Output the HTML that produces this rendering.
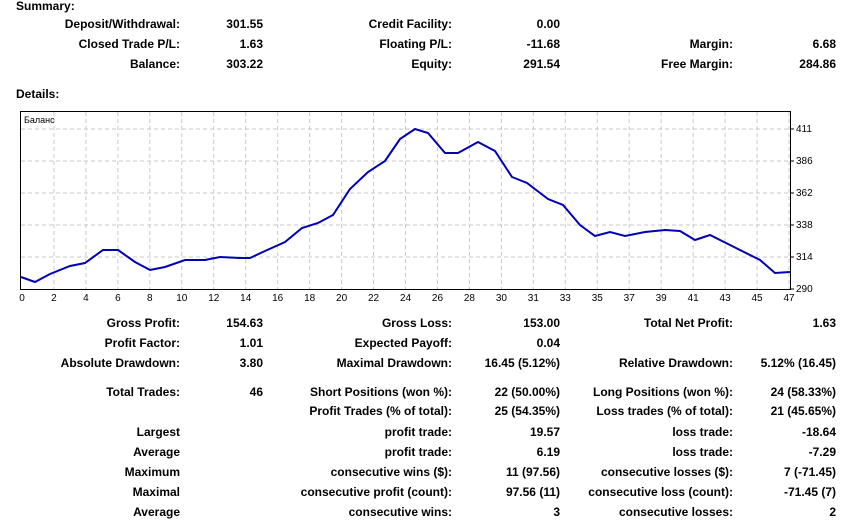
<!DOCTYPE html>
<html><head><meta charset="utf-8"><style>
body{margin:0;width:848px;height:521px;background:#fff;font-family:"Liberation Sans",Tahoma,sans-serif;font-size:12px;font-weight:bold;color:#000;position:relative;overflow:hidden}
.t{position:absolute;white-space:nowrap;line-height:13px}
.r{text-align:right}
svg{font-weight:normal}
</style></head><body>
<div class="t" style="left:16px;top:0px">Summary:</div>
<div class="t" style="left:16px;top:88px">Details:</div>
<div id="c"></div>
<svg style="position:absolute;left:0;top:0" width="848" height="310" font-family="Liberation Sans, sans-serif" font-size="10">
<rect x="20.5" y="111.5" width="770" height="178" fill="#fff" stroke="#000"/>
<g stroke="#c8c8c8" stroke-dasharray="4,3">
<line x1="21" x2="790" y1="129" y2="129"/><line x1="21" x2="790" y1="161" y2="161"/><line x1="21" x2="790" y1="193" y2="193"/><line x1="21" x2="790" y1="225" y2="225"/><line x1="21" x2="790" y1="257" y2="257"/>
</g>
<g id="vg" stroke="#c8c8c8" stroke-dasharray="4,3"></g>
<text x="24" y="123" font-size="9">Баланс</text>
<g font-size="10">
<text x="796" y="132">411</text><text x="796" y="164">386</text><text x="796" y="196">362</text><text x="796" y="228">338</text><text x="796" y="260">314</text><text x="796" y="292">290</text>
</g>
<g stroke="#000"><line x1="790" x2="794" y1="129" y2="129"/><line x1="790" x2="794" y1="161" y2="161"/><line x1="790" x2="794" y1="193" y2="193"/><line x1="790" x2="794" y1="225" y2="225"/><line x1="790" x2="794" y1="257" y2="257"/><line x1="790" x2="794" y1="289" y2="289"/></g>
<g id="xl" font-size="10" text-anchor="middle"></g>
<polyline fill="none" stroke="#0000b4" stroke-width="2" points="21,277 35,282 50,274 70,266 85,263 103,250 118,250 135,262 150,270 165,267 185,260 205,260 220,257 240,258 250,258 265,251 285,242 302,228 318,223 333,215 350,189 368,172 385,161 400,139 415,129 428,133 445,153 458,153 478,142 495,151 512,177 527,183 548,199 563,205 580,225 595,236 610,232 625,236 645,232 665,230 680,231 695,240 710,235 730,245 750,255 760,260 775,273 790,272"/>
</svg>
<script>
var labs=[0,2,4,6,8,10,12,14,16,18,20,22,24,26,28,30,31,33,35,37,39,41,43,45,47];
var vg=document.getElementById('vg'),xl=document.getElementById('xl'),ns='http://www.w3.org/2000/svg';
for(var i=0;i<labs.length;i++){var x=22+i*(767/24);
if(i>0){var l=document.createElementNS(ns,'line');l.setAttribute('x1',x);l.setAttribute('x2',x);l.setAttribute('y1',112);l.setAttribute('y2',289);vg.appendChild(l);}
var t=document.createElementNS(ns,'text');t.setAttribute('x',x);t.setAttribute('y',301);t.textContent=labs[i];xl.appendChild(t);}
var rows=[
[18,"Deposit/Withdrawal:","301.55","Credit Facility:","0.00","",""],
[38,"Closed Trade P/L:","1.63","Floating P/L:","-11.68","Margin:","6.68"],
[58,"Balance:","303.22","Equity:","291.54","Free Margin:","284.86"],
[317,"Gross Profit:","154.63","Gross Loss:","153.00","Total Net Profit:","1.63"],
[337,"Profit Factor:","1.01","Expected Payoff:","0.04","",""],
[357,"Absolute Drawdown:","3.80","Maximal Drawdown:","16.45 (5.12%)","Relative Drawdown:","5.12% (16.45)"],
[386,"Total Trades:","46","Short Positions (won %):","22 (50.00%)","Long Positions (won %):","24 (58.33%)"],
[405,"","","Profit Trades (% of total):","25 (54.35%)","Loss trades (% of total):","21 (45.65%)"],
[426,"Largest","","profit trade:","19.57","loss trade:","-18.64"],
[446,"Average","","profit trade:","6.19","loss trade:","-7.29"],
[466,"Maximum","","consecutive wins ($):","11 (97.56)","consecutive losses ($):","7 (-71.45)"],
[486,"Maximal","","consecutive profit (count):","97.56 (11)","consecutive loss (count):","-71.45 (7)"],
[506,"Average","","consecutive wins:","3","consecutive losses:","2"]];
var rx=[180,263,452,560,733,836],h='';
rows.forEach(function(r){for(var j=1;j<7;j++){if(r[j])h+='<div class="t r" style="right:'+(848-rx[j-1])+'px;top:'+r[0]+'px">'+r[j]+'</div>';}});
document.getElementById('c').innerHTML=h;
</script>
</body></html>
